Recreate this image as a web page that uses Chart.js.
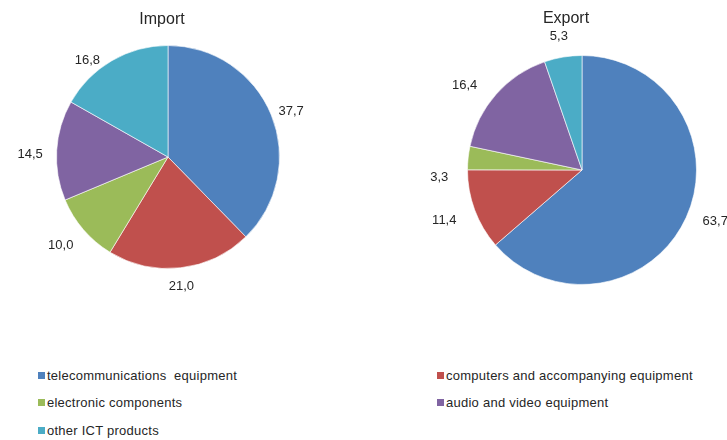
<!DOCTYPE html>
<html>
<head>
<meta charset="utf-8">
<script src="https://cdn.jsdelivr.net/npm/chart.js@4.4.1/dist/chart.umd.min.js"></script>
<style>
    body { margin: 0; background: #fff; }
    #wrap { position: relative; width: 727px; height: 440px; overflow: hidden; }
    canvas { position: absolute; top: 0; }
    #import-chart { left: 0; }
    #export-chart { left: 363px; }
    .legend-item {
        position: absolute;
        font-family: 'Liberation Sans', sans-serif;
        font-size: 13px;
        letter-spacing: 0.25px;
        color: #262626;
        white-space: pre;
        line-height: 16px;
    }
    .legend-item span {
        display: inline-block;
        width: 7px;
        height: 7px;
        margin-right: 2px;
        vertical-align: 1px;
    }
</style>
</head>
<body>
<div id="wrap">
    <canvas id="import-chart" width="363" height="300"></canvas>
    <canvas id="export-chart" width="364" height="300"></canvas>
    <div id="legend"></div>
</div>
<script>
const categories = [
    'telecommunications  equipment',
    'computers and accompanying equipment',
    'electronic components',
    'audio and video equipment',
    'other ICT products'
];
const importValues = [37.7, 21.0, 10.0, 14.5, 16.8];
const exportValues = [63.7, 11.4, 3.3, 16.4, 5.3];
const colors = ['#4F81BD', '#C0504D', '#9BBB59', '#8064A2', '#4BACC6'];

const fmt = v => v.toFixed(1).replace('.', ',');

// values outside each slice plus the chart heading
const pieText = {
    id: 'pieText',
    afterDatasetsDraw(chart, args, opts) {
        const { ctx } = chart;
        const meta = chart.getDatasetMeta(0);
        const values = chart.data.datasets[0].data;
        ctx.save();
        ctx.fillStyle = '#262626';
        ctx.textAlign = 'center';
        ctx.textBaseline = 'middle';
        ctx.font = '13px "Liberation Sans", Arial, sans-serif';
        meta.data.forEach((arc, i) => {
            const p = arc.getProps(['x', 'y', 'startAngle', 'endAngle', 'outerRadius'], true);
            const mid = (p.startAngle + p.endAngle) / 2;
            const text = fmt(values[i]);
            const w = ctx.measureText(text).width;
            const r = p.outerRadius + opts.offset;
            const nudge = (opts.nudge && opts.nudge[i]) || [0, 0];
            const x = p.x + Math.cos(mid) * (r + w / 2) + nudge[0];
            const y = p.y + Math.sin(mid) * (r + 7) + nudge[1];
            ctx.fillText(text, x, y);
        });
        ctx.font = '16px "Liberation Sans", Arial, sans-serif';
        ctx.fillText(opts.title, opts.titleX, opts.titleY);
        ctx.restore();
    }
};

function renderPie(canvas, values, padding, textOpts) {
    return new Chart(canvas, {
        type: 'pie',
        data: {
            labels: categories,
            datasets: [{
                data: values,
                backgroundColor: colors,
                borderColor: 'rgba(255,255,255,0.6)',
                borderWidth: 1
            }]
        },
        options: {
            responsive: false,
            animation: false,
            layout: { padding: padding },
            plugins: {
                legend: { display: false },
                tooltip: { enabled: false },
                pieText: textOpts
            }
        },
        plugins: [pieText]
    });
}

renderPie(document.getElementById('import-chart'), importValues,
    { left: 56, right: 83, top: 45, bottom: 31 },
    { title: 'Import', titleX: 162, titleY: 20, offset: 12,
      nudge: [[-3, 4], [-2, 0], [-4, 3], [-2, 5], [-12, 16]] });

renderPie(document.getElementById('export-chart'), exportValues,
    { left: 103, right: 29, top: 55, bottom: 15 },
    { title: 'Export', titleX: 203, titleY: 19, offset: 16,
      nudge: [[3, -6], [-4, 2], [-4, 22], [-10, 6], [0, 2]] });

// shared legend, two columns
const legend = document.getElementById('legend');
const legendPos = [[38, 368], [437, 368], [38, 395], [437, 395], [38, 423]];
categories.forEach((name, i) => {
    const item = document.createElement('div');
    item.className = 'legend-item';
    item.style.left = legendPos[i][0] + 'px';
    item.style.top = legendPos[i][1] + 'px';
    const box = document.createElement('span');
    box.style.background = colors[i];
    item.appendChild(box);
    item.appendChild(document.createTextNode(name));
    legend.appendChild(item);
});
</script>
</body>
</html>
